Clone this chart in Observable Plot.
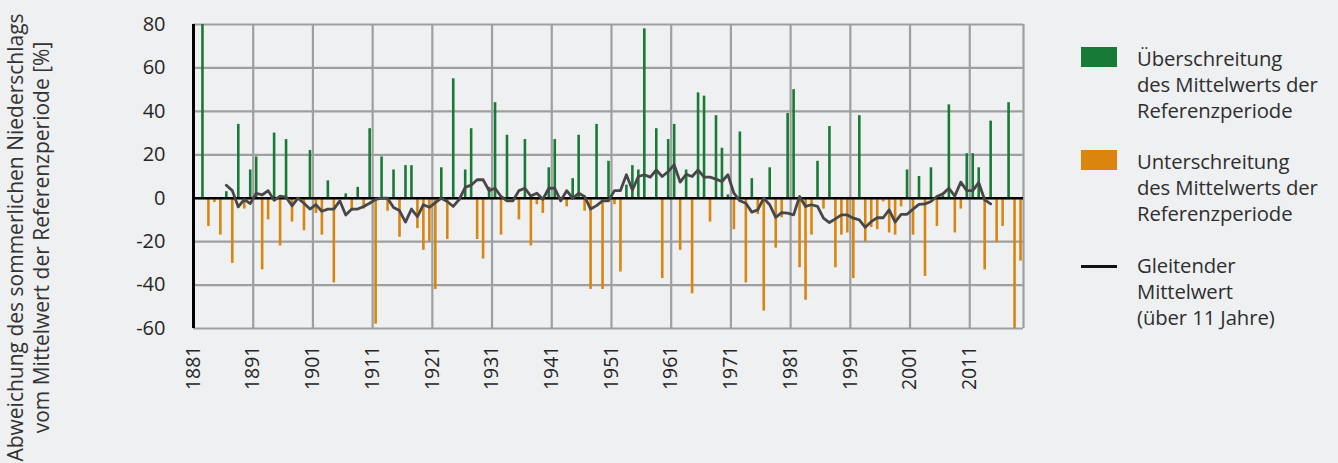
<!DOCTYPE html>
<html><head><meta charset="utf-8">
<script src="https://cdn.jsdelivr.net/npm/d3@7"></script>
<script src="https://cdn.jsdelivr.net/npm/@observablehq/plot@0.6"></script>
<style>
html,body{margin:0;padding:0;background:#eff0f2;}
body{width:1338px;height:463px;overflow:hidden;font-family:"Open Sans","Noto Sans",sans-serif;}
#wrap{position:relative;width:1338px;height:463px;}
#chart{position:absolute;left:0;top:0;}
.sw{position:absolute;left:1081px;width:36px;height:20px;}
.ln{position:absolute;left:1081px;width:36px;height:3px;background:#111;}
.lt{position:absolute;left:1137px;font-size:20.3px;line-height:26px;color:#2e2e2e;white-space:nowrap;font-weight:400;letter-spacing:-0.1px;}
</style></head><body>
<div id="wrap"><div id="chart"></div>
<div class="sw" style="top:47px;background:#177a37"></div>
<div class="lt" style="top:45px">Überschreitung<br>des Mittelwerts der<br>Referenzperiode</div>
<div class="sw" style="top:150px;background:#d9850e"></div>
<div class="lt" style="top:148px">Unterschreitung<br>des Mittelwerts der<br>Referenzperiode</div>
<div class="ln" style="top:265px"></div>
<div class="lt" style="top:252px">Gleitender<br>Mittelwert<br>(über 11 Jahre)</div>
</div>
<script>
// Deviation of summer precipitation from reference-period mean [%], 1881–2019
const firstYear = 1881;
const deviation = [
  0, 80, -13, -2, -17, 3, -30, 34, -5, 13,          // 1881–1890
  19, -33, -10, 30, -22, 27, -11, 0, -15, 22,       // 1891–1900
  -7, -17, 8, -39, 0, 2, -6, 5, -5, 32,             // 1901–1910
  -58, 19, -6, 13, -18, 15, 15, -14, -24, -20,      // 1911–1920
  -42, 14, -19, 55, -1.5, 13, 32, -19, -28, 5,      // 1921–1930
  44, -17, 29, 0, -10, 27, -22, -3, -7, 14,         // 1931–1940
  27, -1.5, -4, 9, 29, -6, -42, 34, -42, 17,        // 1941–1950
  -3, -34, 6, 15, 13, 78, 0, 32, -37, 27,           // 1951–1960
  34, -24, 13, -44, 48.5, 47, -11, 38, 23, 1.5,     // 1961–1970
  -14.5, 30.5, -39, 9, -7.5, -52, 14, -23, -9, 39,  // 1971–1980
  50, -32, -47, -17, 17, -5, 33, -32, -17, -16,     // 1981–1990
  -37, 38, -20, -13.5, -14.5, -1.7, -16, -17, -4, 13, // 1991–2000
  -17, 10, -36, 14, -13, 1, 43, -16, -5, 20.5,      // 2001–2010
  20.5, 14, -33, 35.5, -20.5, -13, 44, -60, -29     // 2011–2019
];
// 11-year moving average, 1886–2014
const maFirstYear = 1886;
const movingAverage = [
  6, 3.5, -4, -0.5, -2.5,                            // 1886–1890
  2.3, 1.5, 3.5, -1, 1, 0.5, -3.5, 0, -2.3, -5,      // 1891–1900
  -3, -6, -5, -5, -1.2, -7.7, -5, -5, -3.8, -2.3,    // 1901–1910
  -0.5, 0, 0, -4.3, -5.7, -11, -5, -8.5, -3, -4.2,   // 1911–1920
  -2, 0, -1.5, -3.8, -0.5, 5, 6, 8.5, 8.5, 3.5,      // 1921–1930
  4.6, 0.8, -1.2, -1.2, 3.5, 4.6, 1, 2.3, -0.5, 4.6, // 1931–1940
  4.6, -1.2, 3.5, 0, 2.3, 0.8, -5, -3.4, -1.2, -1.2, // 1941–1950
  3.5, 3.5, 10.8, 3.8, 10, 10.8, 9.7, 13, 10, 12.3,  // 1951–1960
  15.4, 7.4, 11, 10, 13, 9.7, 9.7, 8.8, 7.7, 10.8,   // 1961–1970
  2.3, -1.2, -2.3, -6.4, -5.4, 0, -3, -8.8, -6.6, -6.9, // 1971–1980
  -7.7, 0.8, -3.8, -3, -3.8, -9.2, -11.2, -9.5, -7.7, -7.7, // 1981–1990
  -9.2, -10, -13.4, -10.8, -9, -9, -5.4, -11, -7.4, -7.4,   // 1991–2000
  -5, -2.8, -2.6, -1.5, 0.8, 2, 4.6, 1, 7.4, 3.5,    // 2001–2010
  3.5, 7.2, -0.8, -2.6                               // 2011–2014
];
const xTickLabels = [1881, 1891, 1901, 1911, 1921, 1931, 1941, 1951, 1961, 1971, 1981, 1991, 2001, 2011];
const yTicks = [-60, -40, -20, 0, 20, 40, 60, 80];
const yTitle = "Abweichung des sommerlichen Niederschlags\nvom Mittelwert der Referenzperiode [%]";

const bars = deviation.map((v, i) => ({year: firstYear + i, value: v}));
const ma = movingAverage.map((v, i) => ({year: maFirstYear + i, value: v}));
const lastYear = firstYear + deviation.length - 1;
const vGrid = xTickLabels.slice(1).map(y => y - 0.5).concat([lastYear + 0.5]);

const green = "#177a37", orange = "#d9850e", gridC = "#9f9f9f";

const chart = Plot.plot({
  width: 1060, height: 463,
  marginLeft: 193, marginRight: 37, marginTop: 24, marginBottom: 135,
  style: {background: "transparent", fontFamily: "'Open Sans', 'Noto Sans', sans-serif", color: "#262626"},
  x: {type: "linear", domain: [firstYear - 0.5, lastYear + 0.5]},
  y: {domain: [-60, 80]},
  marks: [
    Plot.gridY(yTicks, {stroke: gridC, strokeOpacity: 1, strokeWidth: 2.2}),
    Plot.ruleX(vGrid, {stroke: gridC, strokeWidth: 2.2}),
    Plot.ruleX(bars.filter(d => d.value > 0), {x: "year", y1: 0, y2: "value", stroke: green, strokeWidth: 2.6}),
    Plot.ruleX(bars.filter(d => d.value < 0), {x: "year", y1: 0, y2: "value", stroke: orange, strokeWidth: 2.6}),
    Plot.ruleY([0], {stroke: "#000", strokeWidth: 2.6}),
    Plot.ruleX([firstYear - 0.5], {stroke: "#000", strokeWidth: 3}),
    Plot.line(ma, {x: "year", y: "value", stroke: "#474747", strokeWidth: 2.8}),
    Plot.axisY({ticks: yTicks, tickSize: 0, tickPadding: 28, fontSize: 20, tickFormat: d => String(d), label: null}),
    Plot.axisX({ticks: xTickLabels.map(y => y - 0.5), tickFormat: d => String(d + 0.5), tickRotate: -90, tickSize: 0, tickPadding: 17, fontSize: 19.5, label: null}),
    Plot.text([yTitle], {frameAnchor: "middle", dx: -581, dy: 61, rotate: -90, fontSize: 21, lineHeight: 1.24, fill: "#333"})
  ]
});
document.getElementById("chart").appendChild(chart);
</script>
</body></html>
